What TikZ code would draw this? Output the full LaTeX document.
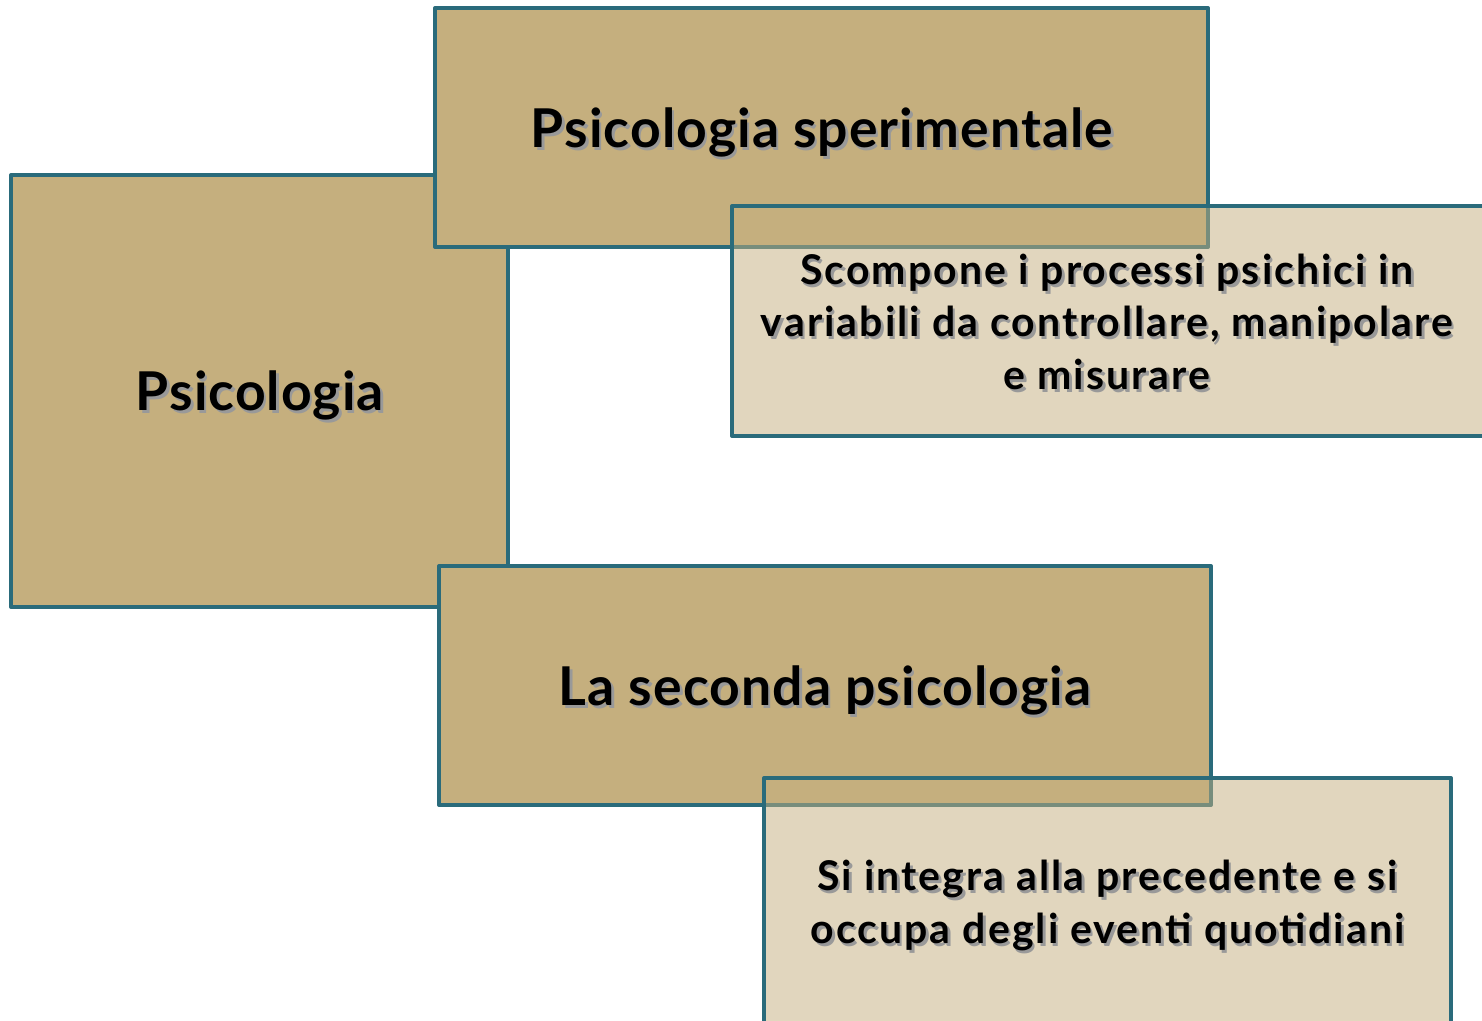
\documentclass[tikz,border=0pt]{standalone}
\usepackage{fontspec}
\setmainfont{Lato}
\definecolor{tanfill}{HTML}{C5AF7E}
\definecolor{tealline}{HTML}{2A6B7B}
\newcommand\shd[1]{\leavevmode\rlap{\hspace{2.5pt}\raisebox{-3pt}{\color{black!40}#1}}#1}
\tikzset{
  darkbox/.style={draw=tealline, line width=4pt, fill=tanfill, line join=round, inner sep=0pt},
  lightbox/.style={draw=tealline, line width=4pt, fill=tanfill, fill opacity=0.5, draw opacity=1, line join=round, inner sep=0pt},
  bigtxt/.style={font=\fontsize{53.5}{64}\selectfont\bfseries\addfontfeature{LetterSpace=2}, align=center, inner sep=0pt},
  smalltxt/.style={font=\fontsize{41}{52.5}\selectfont\bfseries\addfontfeature{LetterSpace=5}, align=center, inner sep=0pt}
}
\begin{document}
\begin{tikzpicture}[x=1pt,y=-1pt]
\useasboundingbox (0,0) rectangle (1482,1020);
\clip (0,0) rectangle (1482,1020);
\fill[white] (0,0) rectangle (1482,1020);
% Psicologia
\node[darkbox, minimum width=497pt, minimum height=432pt] (psi) at (259.5,391) {};
\node[bigtxt] (psiT) at (260,397) {\shd{Psicologia}};
% sperimentale
\node[darkbox, minimum width=773pt, minimum height=239pt] (sper) at (821.5,127.5) {};
\node[bigtxt] (sperT) at (822,134) {\shd{Psicologia sperimentale}};
% scompone
\node[lightbox, minimum width=754pt, minimum height=230pt] (scomp) at (1109,321) {};
\node[smalltxt] (scompT) at (1107,323) {\shd{Scompone i processi psichici in}\\\shd{variabili da controllare, manipolare}\\\shd{e misurare}};
% seconda
\node[darkbox, minimum width=772pt, minimum height=239pt] (sec) at (825,685.5) {};
\node[bigtxt] (secT) at (825,692) {\shd{La seconda psicologia}};
% si integra
\node[lightbox, minimum width=687pt, minimum height=252pt] (si) at (1107.5,904) {};
\node[smalltxt] (siT) at (1107.5,907) {\shd{Si integra alla precedente e si}\\\shd{occupa degli eventi quotidiani}};
\end{tikzpicture}
\end{document}
